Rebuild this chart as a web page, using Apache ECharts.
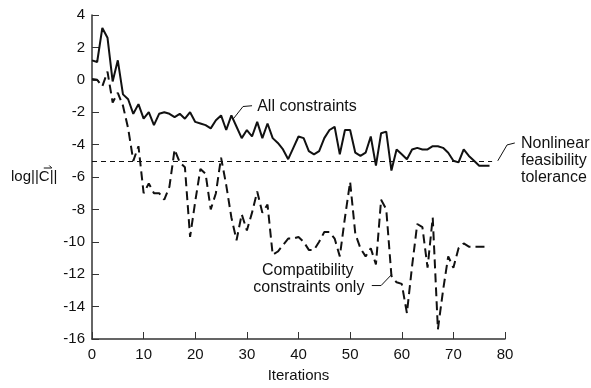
<!DOCTYPE html>
<html><head><meta charset="utf-8">
<script src="https://cdn.jsdelivr.net/npm/echarts@6/dist/echarts.min.js"></script>
<style>html,body{margin:0;padding:0;background:#fff}#c{width:591px;height:388px}</style>
</head><body><div id="c"></div>
<script>
var xTicks = [0, 10, 20, 30, 40, 50, 60, 70, 80];
var yTicks = [4, 2, 0, -2, -4, -6, -8, -10, -12, -14, -16];
var iterations = [];
for (var i = 0; i <= 77; i++) iterations.push(i);
var allConstraints = [1.2, 1.1, 3.2, 2.6, -0.1, 1.2, -0.9, -1.2, -2.1, -1.5,
  -2.4, -2.0, -2.8, -2.1, -2.0, -2.1, -2.3, -2.1, -2.4, -2.0,
  -2.6, -2.7, -2.8, -3.0, -2.5, -2.2, -3.1, -2.2, -2.9, -3.6,
  -3.1, -3.5, -2.6, -3.6, -2.7, -3.6, -3.9, -4.3, -4.9, -4.2,
  -3.5, -3.6, -4.4, -4.6, -4.4, -3.6, -3.1, -2.9, -4.6, -3.1,
  -3.1, -4.5, -4.7, -4.5, -3.5, -5.3, -3.3, -3.2, -5.6, -4.3,
  -4.6, -4.9, -4.3, -4.2, -4.3, -4.3, -4.1, -4.1, -4.2, -4.5,
  -5.0, -5.1, -4.3, -4.7, -5.0, -5.3, -5.3, -5.3];
var compatibilityOnly = [0.05, 0.0, -0.4, 0.5, -1.4, -0.8, -1.6, -3.0, -5.0, -4.1,
  -7.0, -6.4, -7.0, -7.0, -7.4, -6.6, -4.3, -5.1, -5.4, -9.7,
  -7.5, -5.5, -5.8, -8.0, -7.0, -4.8, -6.5, -8.5, -9.9, -8.3,
  -9.3, -8.2, -6.9, -8.2, -7.7, -10.8, -10.6, -10.2, -9.8, -9.8,
  -9.7, -10.0, -10.5, -10.5, -10.0, -9.4, -9.4, -9.8, -10.9, -8.5,
  -6.3, -9.5, -10.4, -10.9, -10.4, -11.4, -7.4, -8.0, -12.1, -12.5,
  -12.6, -14.4, -11.5, -8.9, -9.1, -11.6, -8.5, -15.4, -13.0, -10.9,
  -11.6, -10.4, -10.1, -10.3, -10.3, -10.3, -10.3, -10.3];
var toleranceLevel = -5;

function pairs(xs, ys) { return xs.map(function (x, k) { return [x, ys[k]]; }); }

var FONT = 'Liberation Sans, Arial, Helvetica, sans-serif';
var NAME_GAP = 31, GRID_LEFT = 92;
var chart = echarts.init(document.getElementById('c'), null, {renderer: 'canvas'});
chart.setOption({
  animation: false,
  backgroundColor: '#fff',
  grid: {left: GRID_LEFT, right: 86, top: 15, bottom: 44},
  xAxis: {
    type: 'value', min: xTicks[0], max: xTicks[xTicks.length - 1], interval: 10,
    name: 'Iterations', nameLocation: 'middle', nameGap: 29,
    nameTextStyle: {color: '#111', fontSize: 15, fontFamily: FONT},
    axisLine: {onZero: false, lineStyle: {color: '#333', width: 1.5}},
    axisTick: {inside: true, length: 7, lineStyle: {color: '#333'}},
    axisLabel: {color: '#111', fontSize: 15, fontFamily: FONT, margin: 8},
    splitLine: {show: false}
  },
  yAxis: {
    type: 'value', min: yTicks[yTicks.length - 1], max: yTicks[0], interval: 2,
    name: 'log||C||', nameLocation: 'middle', nameRotate: 0, nameGap: NAME_GAP,
    nameTextStyle: {color: '#111', fontSize: 15, fontFamily: FONT, align: 'right', verticalAlign: 'middle'},
    axisLine: {show: true, onZero: false, lineStyle: {color: '#333', width: 1.5}},
    axisTick: {show: true, inside: true, length: 7, lineStyle: {color: '#333'}},
    axisLabel: {color: '#111', fontSize: 15, fontFamily: FONT, margin: 7},
    splitLine: {show: false}
  },
  series: [
    {
      name: 'All constraints', type: 'line', data: pairs(iterations, allConstraints),
      symbol: 'none', lineStyle: {color: '#111', width: 2}, z: 3,
      markLine: {
        silent: true, symbol: 'none', label: {show: false},
        lineStyle: {color: '#111', width: 1, type: [5, 4]},
        data: [[{coord: [0, toleranceLevel]}, {coord: [77.5, toleranceLevel]}]]
      }
    },
    {
      name: 'Compatibility constraints only', type: 'line', data: pairs(iterations, compatibilityOnly),
      symbol: 'none', lineStyle: {color: '#111', width: 2, type: [9, 5]}, z: 2
    }
  ]
});

function P(x, y) { return chart.convertToPixel({gridIndex: 0}, [x, y]); }
function leader(pts) {
  return {type: 'polyline', shape: {points: pts.map(function (p) { return P(p[0], p[1]); })},
    style: {stroke: '#111', lineWidth: 1, fill: null}, silent: true};
}
function label(text, x, y, align) {
  var p = P(x, y);
  return {type: 'text', x: p[0], y: p[1], silent: true,
    style: {text: text, fill: '#111', font: '16px ' + FONT, align: align, verticalAlign: 'middle'}};
}
// arrow over the C of the y-axis name
var ctx = document.createElement('canvas').getContext('2d');
ctx.font = '15px ' + FONT;
var barsW = ctx.measureText('||').width, cW = ctx.measureText('C').width;
var nameRight = GRID_LEFT - NAME_GAP;
var cCenter = nameRight - barsW - cW / 2;
var midY = P(0, (yTicks[0] + yTicks[yTicks.length - 1]) / 2)[1];
var ay = midY - 9;
chart.setOption({graphic: [
  label('All constraints', 32.0, -1.65, 'left'),
  leader([[27.3, -2.44], [29.25, -1.65], [31.0, -1.6]]),
  label('Nonlinear', 83.1, -3.96, 'left'),
  label('feasibility', 83.1, -5.0, 'left'),
  label('tolerance', 83.1, -6.03, 'left'),
  leader([[78.6, -5.0], [80.4, -4.02], [81.9, -3.9]]),
  label('Compatibility', 41.8, -11.8, 'center'),
  label('constraints only', 42.0, -12.84, 'center'),
  leader([[54.2, -12.7], [56.0, -12.7], [58.1, -12.0]]),
  {type: 'polyline', silent: true, shape: {points: [[cCenter - 4, ay], [cCenter + 4, ay], [cCenter + 1.5, ay - 2.5]]},
    style: {stroke: '#111', lineWidth: 1, fill: null}}
]});
</script></body></html>
